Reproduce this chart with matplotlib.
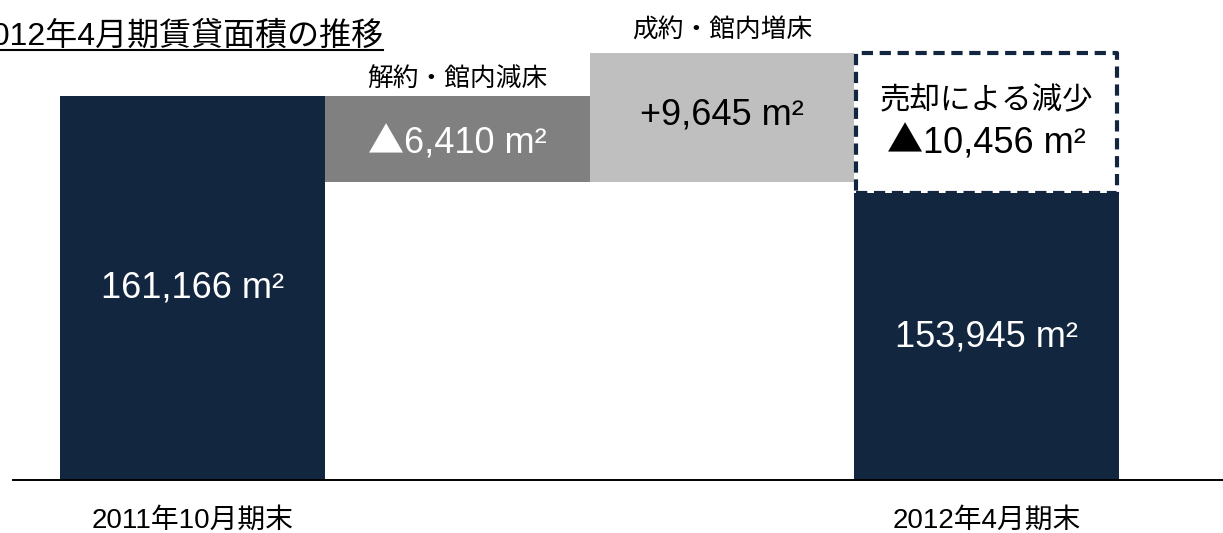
#!/usr/bin/env python3
"""Waterfall of leased floor area, 2011/10 -> 2012/4."""

import matplotlib
matplotlib.use("Agg")
import matplotlib.pyplot as plt
from matplotlib.lines import Line2D

plt.rcParams['font.family'] = ['Liberation Sans', 'Noto Sans CJK JP']

# data
categories   = ['2011年10月期末', '', '', '2012年4月期末']
start_area   = 161166
cancel_area  = 6410      # 解約・館内減床
new_area     = 9645      # 成約・館内増床
sold_area    = 10456     # 売却による減少
end_area     = 153945
step_titles  = ['解約・館内減床', '成約・館内増床']
title        = '2012年4月期賃貸面積の推移'

NAVY  = '#132640'
GRAY  = '#808080'
LIGHT = '#bfbfbf'

# the value axis does not start at zero in the original
y_base = 132580
y_top  = y_base + 480 / 0.013433

W, H = 1223, 533
fig = plt.figure(figsize=(W / 100, H / 100), dpi=100)
ax = fig.add_axes([13 / W, 53 / H, 1210 / W, 480 / H])

# running totals for the waterfall
after_cancel = start_area - cancel_area
after_new    = after_cancel + new_area

ax.bar(0, start_area, width=1.0, color=NAVY)
ax.bar(1, cancel_area, bottom=after_cancel, width=1.0, color=GRAY)
ax.bar(2, new_area, bottom=after_cancel, width=1.0, color=LIGHT)
ax.bar(3, end_area, width=1.0, color=NAVY)
ax.bar(3, sold_area, bottom=after_new - sold_area, width=0.985,
       facecolor='white', edgecolor=NAVY, linewidth=3,
       linestyle=(0, (2.7, 1.6)), joinstyle='round')


def tri_label(x, y, number, color):
    # number in Arial-like font, the ▲ in the full-width CJK glyph
    t = ax.annotate(number, (x, y), xytext=(13, 0), textcoords='offset points',
                    ha='center', va='center', fontsize=26, color=color)
    ax.annotate('▲', (0, 0.5), xycoords=t, ha='right', va='center',
                fontsize=26, color=color, family='Noto Sans CJK JP')


# value labels inside the bars
lab = dict(ha='center', va='center', fontsize=26)
ax.text(0, (y_base + start_area) / 2, f'{start_area:,} m²', color='white', **lab)
tri_label(1, after_cancel + cancel_area / 2 - 300, f'{cancel_area:,} m²', 'white')
ax.text(2, after_cancel + new_area / 2 + 150, f'+{new_area:,} m²', color='black', **lab)
ax.text(3, (y_base + end_area) / 2, f'{end_area:,} m²', color='white', **lab)
box_mid = after_new - sold_area / 2
ax.text(3, box_mid + 1700, '売却による減少', color='black', ha='center',
        va='center', fontsize=22)
tri_label(3, box_mid - 1500, f'{sold_area:,} m²', 'black')

# step titles above the change bars
ax.annotate(step_titles[0], (1, start_area), xytext=(0, 4),
            textcoords='offset points', ha='center', va='bottom', fontsize=18.5)
ax.annotate(step_titles[1], (2, after_new), xytext=(0, 7),
            textcoords='offset points', ha='center', va='bottom', fontsize=18.5)

# axes
ax.set_xlim(-0.678, 3.893)
ax.set_ylim(y_base, y_top)
ax.set_xticks(range(len(categories)))
ax.set_xticklabels(categories, fontsize=20)
ax.tick_params(axis='x', length=0, pad=20)
ax.set_yticks([])
for side in ('left', 'right', 'top'):
    ax.spines[side].set_visible(False)
ax.spines['bottom'].set_linewidth(1.4)
ax.patch.set_alpha(0)

# underlined title, partly cut off on the left edge
fig.text(383 / W, 1 - 37 / H, title, ha='right', va='center', fontsize=23)
fig.add_artist(Line2D([0, 383 / W], [1 - 50 / H, 1 - 50 / H],
                      color='black', linewidth=1.5))

fig.savefig('out.png', dpi=100)
